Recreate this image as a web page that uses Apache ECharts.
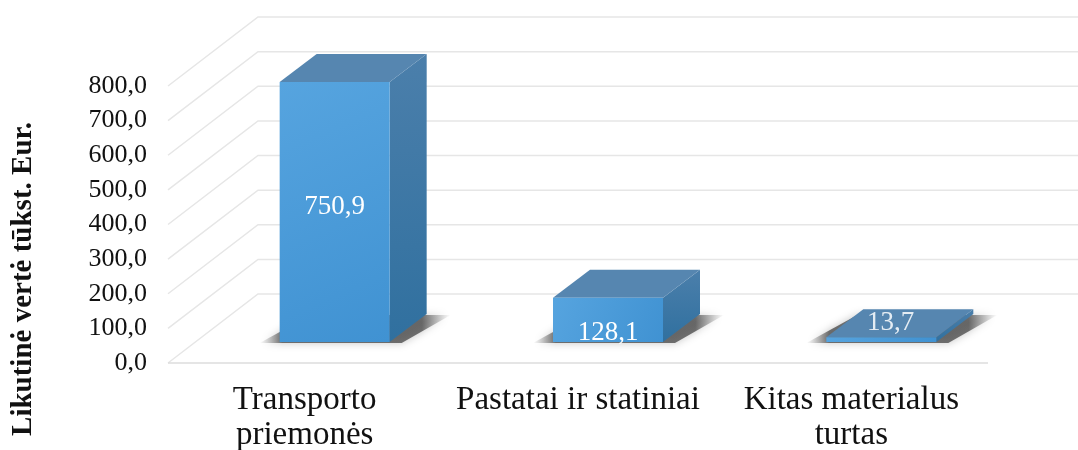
<!DOCTYPE html>
<html>
<head>
<meta charset="utf-8">
<title>Likutinė vertė</title>
<script src="https://cdn.jsdelivr.net/npm/echarts@6/dist/echarts.min.js"></script>
<style>
  html, body { margin: 0; padding: 0; background: #fff; }
  #chart { width: 1078px; height: 450px; }
</style>
</head>
<body>
<div id="chart"></div>
<script>
// values
const categories = ['Transporto\npriemonės', 'Pastatai ir statiniai', 'Kitas materialus\nturtas']
const values = [750.9, 128.1, 13.7]
const yTicks = [0, 100, 200, 300, 400, 500, 600, 700, 800]

const SERIF = '"Liberation Serif", "Times New Roman", serif'

// fake 3d look (px)
const BAR_W = 110
const BAR_SHIFT = [30, -21]   // bar front plane vs axis front plane
const BAR_DEPTH = [37, -28]
const WALL_DEPTH = [90, -69]

const fmt = v => v.toFixed(1).replace('.', ',')

function renderWalls(params, api) {
  const rect = params.coordSys
  const v = api.value(1)
  const y = api.coord([0, v])[1]
  const children = [{
    type: 'polyline',
    shape: {
      points: [
        [rect.x, y],
        [rect.x + WALL_DEPTH[0], y + WALL_DEPTH[1]],
        [rect.x + rect.width + WALL_DEPTH[0], y + WALL_DEPTH[1]]
      ]
    },
    style: { stroke: '#e6e6e6', lineWidth: 1.5, fill: null }
  }]
  if (v === 0) {
    children.push({
      type: 'line',
      shape: { x1: rect.x, y1: y, x2: rect.x + rect.width, y2: y },
      style: { stroke: '#dcdcdc', lineWidth: 1.5 }
    })
  }
  return { type: 'group', children }
}

function renderBar(params, api) {
  const i = api.value(0)
  const v = api.value(1)
  const base = api.coord([i, 0])
  const top = api.coord([i, v])
  const [dx, dy] = BAR_DEPTH
  const x0 = base[0] + BAR_SHIFT[0] - BAR_W / 2
  const x1 = x0 + BAR_W
  const yb = base[1] + BAR_SHIFT[1]
  const yt = top[1] + BAR_SHIFT[1]
  const frontH = yb - yt

  // label: middle of the front face, or on the top when the bar is flat
  let lx = (x0 + x1) / 2
  let ly = yt + frontH / 2
  if (i === 0) ly -= 5
  if (i === 1) ly += 13
  if (frontH < 30) {
    lx += dx / 4
    ly = yt + dy / 2
  }

  return {
    type: 'group',
    children: [
      {
        type: 'polygon',
        shape: {
          points: [
            [x0 - 20, yb + 1],
            [x1 + 12, yb + 1],
            [x1 + dx + 24, yb + dy + 1],
            [x0 + dx - 6, yb + dy + 1]
          ]
        },
        style: {
          fill: {
            type: 'linear', x: 0, y: 0, x2: 1, y2: 0,
            colorStops: [
              { offset: 0, color: 'rgba(110,110,110,0)' },
              { offset: 0.12, color: 'rgba(70,70,70,0.75)' },
              { offset: 0.85, color: 'rgba(70,70,70,0.75)' },
              { offset: 1, color: 'rgba(110,110,110,0)' }
            ]
          },
          shadowBlur: 8,
          shadowColor: 'rgba(0,0,0,0.3)'
        }
      },
      {
        type: 'polygon',
        shape: { points: [[x1, yt], [x1 + dx, yt + dy], [x1 + dx, yb + dy], [x1, yb]] },
        style: {
          fill: {
            type: 'linear', x: 0, y: 0, x2: 0, y2: 1,
            colorStops: [
              { offset: 0, color: '#4b7fab' },
              { offset: 1, color: '#30709f' }
            ]
          }
        }
      },
      {
        type: 'polygon',
        shape: { points: [[x0, yt], [x1, yt], [x1 + dx, yt + dy], [x0 + dx, yt + dy]] },
        style: { fill: '#5686b0' }
      },
      {
        type: 'rect',
        shape: { x: x0, y: yt, width: BAR_W, height: frontH },
        style: {
          fill: {
            type: 'linear', x: 0, y: 0, x2: 1, y2: 1,
            colorStops: [
              { offset: 0, color: '#56a4df' },
              { offset: 1, color: '#4092d2' }
            ]
          }
        }
      },
      {
        type: 'text',
        x: lx,
        y: ly,
        style: {
          text: fmt(v),
          fill: frontH < 30 ? '#e4ecf3' : '#ffffff',
          font: '27px ' + SERIF,
          align: 'center',
          verticalAlign: 'middle'
        }
      }
    ]
  }
}

const chart = echarts.init(document.getElementById('chart'))
chart.setOption({
  animation: false,
  grid: { left: 168, right: 90, top: 86, bottom: 87, outerBoundsMode: 'none' },
  graphic: [{
    type: 'text',
    x: 24,
    y: 279,
    rotation: Math.PI / 2,
    style: {
      text: 'Likutinė vertė tūkst. Eur.',
      font: 'bold 29px ' + SERIF,
      fill: '#111',
      align: 'center',
      verticalAlign: 'middle'
    }
  }],
  xAxis: {
    type: 'category',
    data: categories,
    axisLine: { show: false },
    axisTick: { show: false },
    axisLabel: {
      interval: 0,
      margin: 20,
      fontFamily: SERIF,
      fontSize: 33,
      lineHeight: 35,
      color: '#111'
    }
  },
  yAxis: {
    type: 'value',
    min: yTicks[0],
    max: yTicks[yTicks.length - 1],
    interval: yTicks[1] - yTicks[0],
    splitLine: { show: false },
    axisLine: { show: false },
    axisTick: { show: false },
    axisLabel: {
      margin: 21,
      fontFamily: SERIF,
      fontSize: 26,
      color: '#111',
      formatter: v => fmt(v)
    }
  },
  series: [
    {
      type: 'custom',
      name: 'walls',
      silent: true,
      clip: false,
      z: 1,
      data: yTicks.map(v => [0, v]),
      encode: { x: 0, y: 1 },
      renderItem: renderWalls
    },
    {
      type: 'custom',
      name: 'Likutinė vertė',
      clip: false,
      z: 2,
      data: values.map((v, i) => [i, v]),
      encode: { x: 0, y: 1 },
      renderItem: renderBar
    }
  ]
})
</script>
</body>
</html>
